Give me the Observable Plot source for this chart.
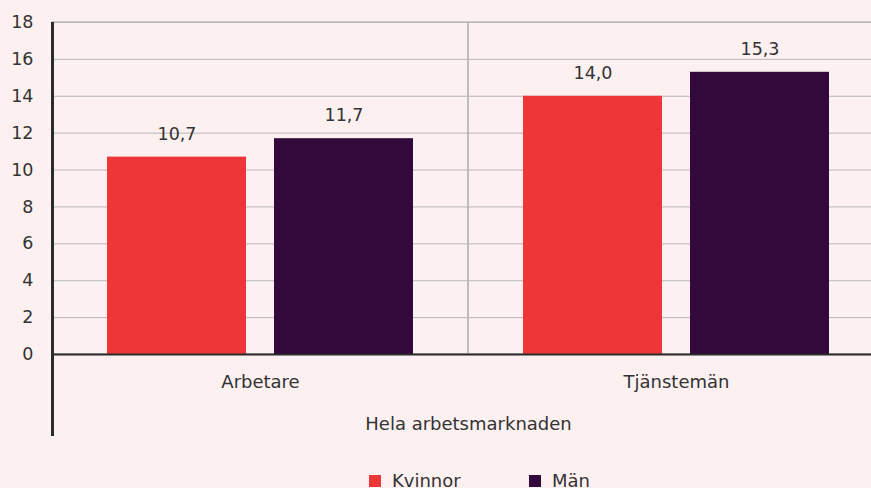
<!DOCTYPE html>
<html><head><meta charset="utf-8">
<script src="https://cdn.jsdelivr.net/npm/d3@7"></script>
<script src="https://cdn.jsdelivr.net/npm/@observablehq/plot@0.6"></script>
<style>
html,body{margin:0;padding:0;background:#fcf0f0;overflow:hidden;width:871px;height:488px;}
#wrap{width:884px;height:488px;position:relative;font-family:"DejaVu Sans",sans-serif;color:#333;}
#wrap svg{max-width:none !important;display:block;}
#legend{position:absolute;left:369px;top:471px;display:flex;font-size:18px;line-height:20px;}
.item{display:flex;align-items:center;}
.item:first-child{width:160px;}
.sw{width:12px;height:12px;margin-right:11px;}
</style>
</head><body>
<div id="wrap"><div id="chart"></div><div id="legend"></div></div>
<script>
const groups = ["Arbetare", "Tjänstemän"];
const series = ["Kvinnor", "Män"];
const kvinnor = [10.7, 14.0];
const man = [11.7, 15.3];
const yTicks = [0, 2, 4, 6, 8, 10, 12, 14, 16, 18];
const colors = ["#ee3538", "#32093a"];
const groupLabel = "Hela arbetsmarknaden";

const data = groups.flatMap((g, i) => [
  {group: g, sex: series[0], value: kvinnor[i]},
  {group: g, sex: series[1], value: man[i]}
]);
const fmt = v => v.toFixed(1).replace(".", ",");

const plot = Plot.plot({
  width: 884, height: 456,
  marginLeft: 52, marginRight: 0, marginTop: 22, marginBottom: 20,
  style: {background: "transparent", fontFamily: "DejaVu Sans", fontSize: "17.5px", color: "#333", maxWidth: "none"},
  fx: {domain: groups, padding: 0, axis: null},
  x: {domain: series, paddingInner: 0.168, paddingOuter: 0.329, axis: null},
  y: {domain: [0, 18], insetBottom: 82, axis: null},
  color: {domain: series, range: colors},
  marks: [
    Plot.gridY(yTicks, {stroke: "#b7b7b7", strokeOpacity: 1, strokeWidth: 1}),
    Plot.rect(groups, {fx: d => d, y1: 0, y2: 18, stroke: "#b7b7b7", strokeWidth: 1.3, fill: "none"}),
    Plot.barY(data, {fx: "group", x: "sex", y: "value", fill: "sex"}),
    Plot.text(data, {fx: "group", x: "sex", y: "value", text: d => fmt(d.value), dy: -23, fill: "#333"}),
    Plot.ruleY([0], {stroke: "#2b2b2b", strokeWidth: 2}),
    // left axis line spanning the whole frame, first facet only
    Plot.rect([groups[0]], {fx: d => d, fill: "#2b2b2b", insetLeft: -1, insetRight: 414}),
    Plot.axisY(yTicks, {anchor: "left", tickSize: 0, tickPadding: 19, label: null, fill: "#333"}),
    Plot.axisFx({anchor: "bottom", tickSize: 0, tickPadding: -61, fontSize: 18, fill: "#333",
      label: groupLabel, labelAnchor: "center", labelOffset: -7})
  ]
});
document.getElementById("chart").appendChild(plot);

const legend = document.getElementById("legend");
series.forEach((s, i) => {
  const it = document.createElement("div");
  it.className = "item";
  const sw = document.createElement("div");
  sw.className = "sw";
  sw.style.background = colors[i];
  const t = document.createElement("span");
  t.textContent = s;
  it.appendChild(sw); it.appendChild(t);
  legend.appendChild(it);
});
</script>
</body></html>
